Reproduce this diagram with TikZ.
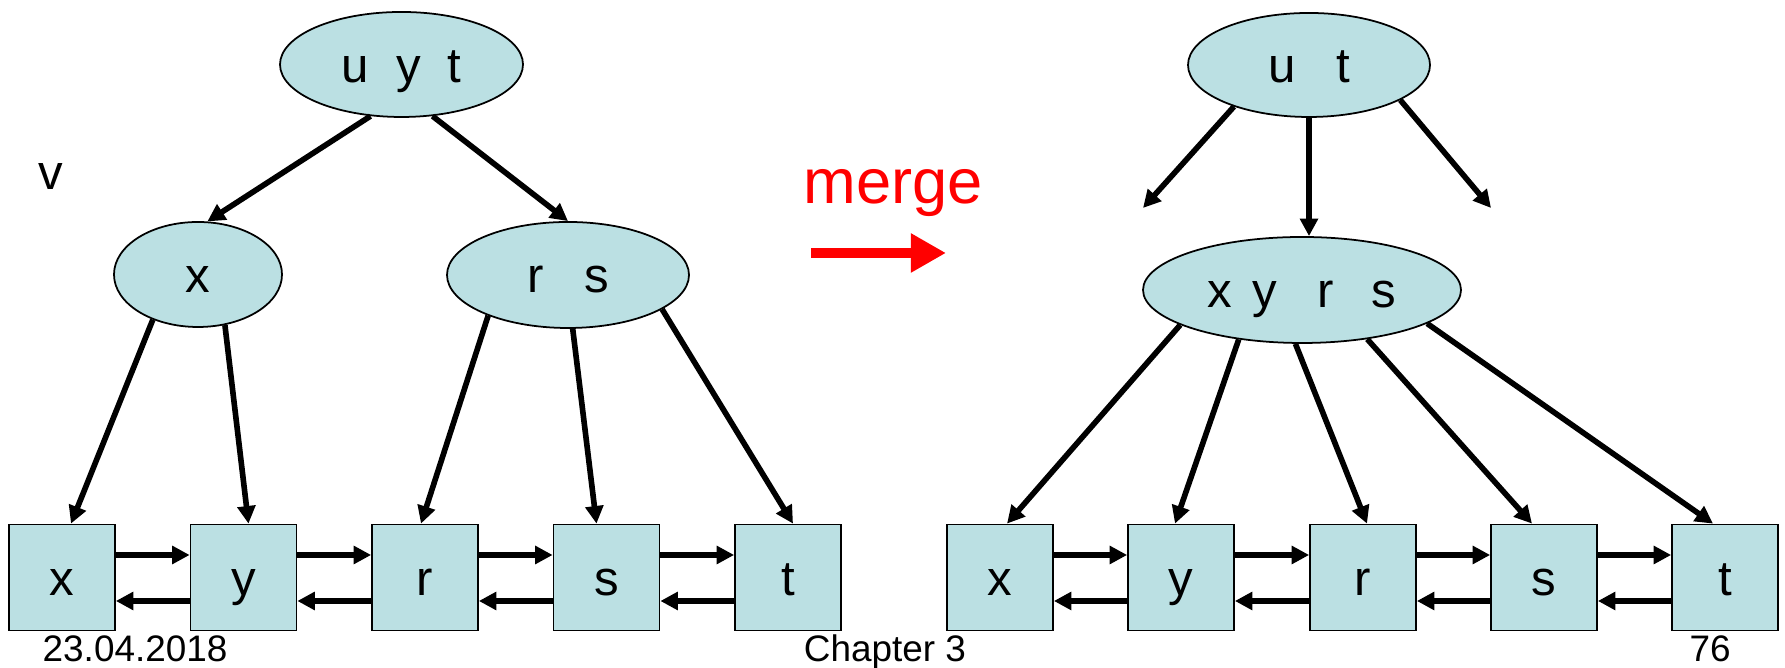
\documentclass[tikz,border=0pt]{standalone}
\usepackage{fontspec}
\setmainfont{Liberation Sans}
\usepackage{tikz}
\usetikzlibrary{arrows.meta,shapes.geometric}

\definecolor{keyblue}{RGB}{187,224,227}

\tikzset{
  keynode/.style={ellipse, draw, line width=0.5pt, fill=keyblue, inner sep=0pt,
    text height=10.2pt, text depth=0pt, font=\fontsize{14}{16}\selectfont},
  leafbox/.style={rectangle, draw, line width=0.5pt, fill=keyblue, minimum size=1.06cm,
    inner sep=0pt, text height=10.2pt, text depth=0pt, font=\fontsize{14}{16}\selectfont},
  ptr/.style={line width=1.6pt, -{Triangle[length=5pt,width=5pt]}},
  plain/.style={inner sep=0pt}
}

\begin{document}
\begin{tikzpicture}
\useasboundingbox (0,0) rectangle (17.85,6.68);

% before
\node[keynode, minimum width=2.43cm, minimum height=1.05cm] (uyt) at (4.015,6.035) {u~~y~~t};
\node[keynode, minimum width=1.68cm, minimum height=1.05cm] (ex) at (1.98,3.935) {x};
\node[keynode, minimum width=2.42cm, minimum height=1.06cm] (rs) at (5.68,3.93) {r~~~s};
\node[plain, anchor=base, font=\fontsize{14}{16}\selectfont] (v) at (0.51,4.78) {v};

\node[leafbox] (bx1) at (0.62,0.905) {x};
\node[leafbox] (by1) at (2.435,0.905) {y};
\node[leafbox] (br1) at (4.25,0.905) {r};
\node[leafbox] (bs1) at (6.065,0.905) {s};
\node[leafbox] (bt1) at (7.88,0.905) {t};

\draw[ptr] (uyt.239) -- (ex.80);
\draw[ptr] (uyt.301) -- (rs.north);
\draw[ptr] (ex.225) -- ([xshift=0.09cm]bx1.north);
\draw[ptr] (ex.298) -- ([xshift=0.05cm]by1.north);
\draw[ptr] (rs.207) -- ([xshift=-0.04cm]br1.north);
\draw[ptr] (rs.275) -- ([xshift=-0.1cm]bs1.north);
\draw[ptr] (rs.340) -- ([xshift=0.05cm]bt1.north);

\draw[ptr] ([yshift=0.225cm]bx1.east) -- ([yshift=0.225cm]by1.west);
\draw[ptr] ([yshift=-0.235cm]by1.west) -- ([yshift=-0.235cm]bx1.east);
\draw[ptr] ([yshift=0.225cm]by1.east) -- ([yshift=0.225cm]br1.west);
\draw[ptr] ([yshift=-0.235cm]br1.west) -- ([yshift=-0.235cm]by1.east);
\draw[ptr] ([yshift=0.225cm]br1.east) -- ([yshift=0.225cm]bs1.west);
\draw[ptr] ([yshift=-0.235cm]bs1.west) -- ([yshift=-0.235cm]br1.east);
\draw[ptr] ([yshift=0.225cm]bs1.east) -- ([yshift=0.225cm]bt1.west);
\draw[ptr] ([yshift=-0.235cm]bt1.west) -- ([yshift=-0.235cm]bs1.east);

% merge
\node[plain, anchor=base west, text=red, font=\fontsize{18}{20}\selectfont] (merge) at (8.03,4.64) {merge};
\coordinate (m0) at (8.11,4.15);
\coordinate (m1) at (9.46,4.15);
\draw[red, line width=3.1pt, -{Triangle[length=10pt,width=10.5pt]}] (m0) -- (m1);

% after
\node[keynode, minimum width=2.42cm, minimum height=1.04cm] (ut) at (13.09,6.03) {u~~~t};
\node[keynode, minimum width=3.18cm, minimum height=1.06cm] (xyrs) at (13.02,3.78)
  {x\hspace{0.2cm}y\hspace{0.4cm}r\hspace{0.38cm}s};
\coordinate (lfree) at (11.43,4.60);
\coordinate (rfree) at (14.91,4.60);

\node[leafbox] (bx2) at (10.00,0.905) {x};
\node[leafbox] (by2) at (11.81,0.905) {y};
\node[leafbox] (br2) at (13.63,0.905) {r};
\node[leafbox] (bs2) at (15.44,0.905) {s};
\node[leafbox] (bt2) at (17.25,0.905) {t};

\draw[ptr] (ut.209) -- (lfree);
\draw[ptr] (ut.south) -- (ut.south |- xyrs.north);
\draw[ptr] (ut.339) -- (rfree);
\draw[ptr] (xyrs.196) -- ([xshift=0.07cm]bx2.north);
\draw[ptr] (xyrs.218) -- ([xshift=-0.06cm]by2.north);
\draw[ptr] (xyrs.263) -- ([xshift=0.04cm]br2.north);
\draw[ptr] (xyrs.323) -- ([xshift=-0.12cm]bs2.north);
\draw[ptr] (xyrs.345) -- ([xshift=-0.12cm]bt2.north);

\draw[ptr] ([yshift=0.225cm]bx2.east) -- ([yshift=0.225cm]by2.west);
\draw[ptr] ([yshift=-0.235cm]by2.west) -- ([yshift=-0.235cm]bx2.east);
\draw[ptr] ([yshift=0.225cm]by2.east) -- ([yshift=0.225cm]br2.west);
\draw[ptr] ([yshift=-0.235cm]br2.west) -- ([yshift=-0.235cm]by2.east);
\draw[ptr] ([yshift=0.225cm]br2.east) -- ([yshift=0.225cm]bs2.west);
\draw[ptr] ([yshift=-0.235cm]bs2.west) -- ([yshift=-0.235cm]br2.east);
\draw[ptr] ([yshift=0.225cm]bs2.east) -- ([yshift=0.225cm]bt2.west);
\draw[ptr] ([yshift=-0.235cm]bt2.west) -- ([yshift=-0.235cm]bs2.east);

% footer
\node[plain, anchor=base west, font=\fontsize{10.5}{12}\selectfont] (date) at (0.42,0.06) {23.04.2018};
\node[plain, anchor=base, font=\fontsize{10.5}{12}\selectfont] (chap) at (8.85,0.06) {Chapter 3};
\node[plain, anchor=base, font=\fontsize{10.5}{12}\selectfont] (page) at (17.10,0.06) {76};
\end{tikzpicture}
\end{document}
